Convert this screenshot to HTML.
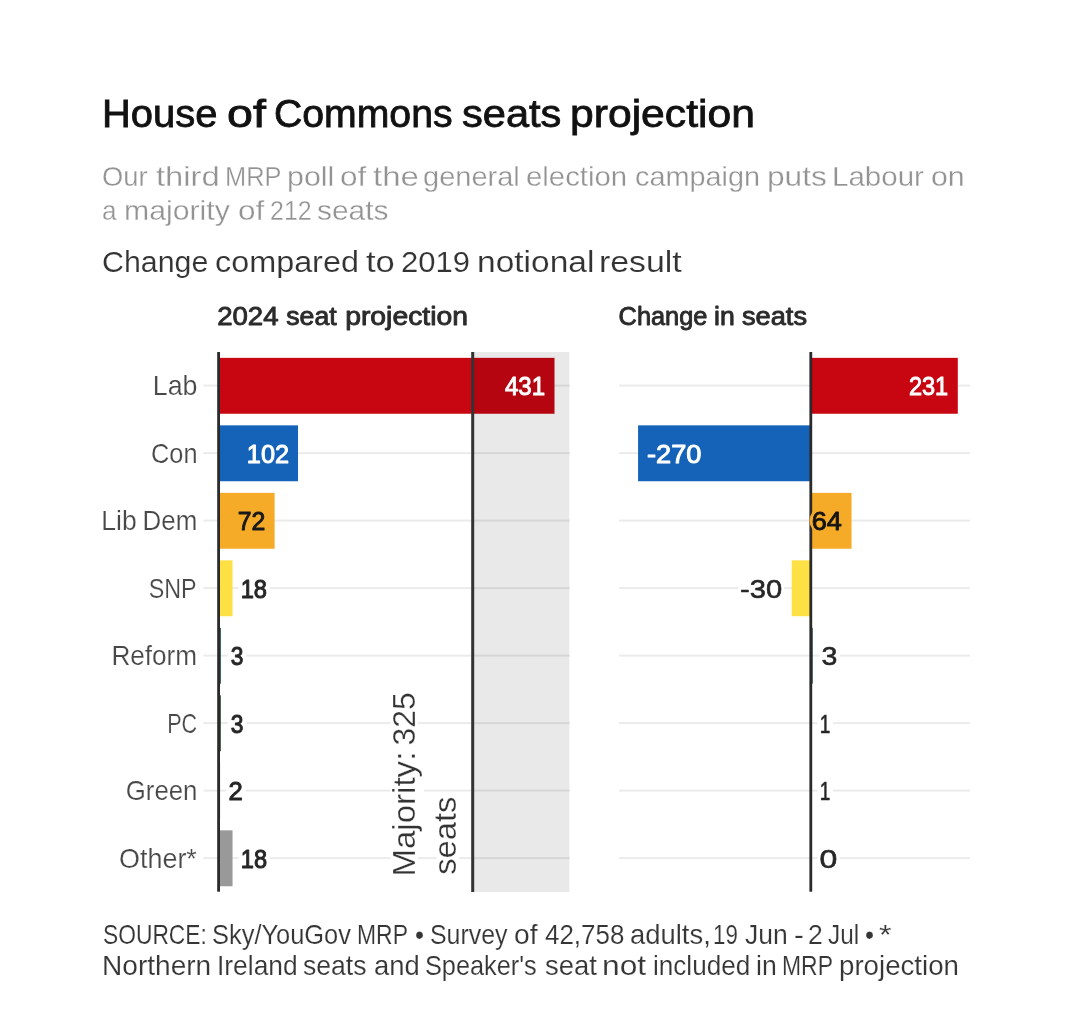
<!DOCTYPE html>
<html lang="en"><head><meta charset="utf-8"><title>House of Commons seats projection</title>
<style>
html,body{margin:0;padding:0;background:#fff;}
body{width:1080px;height:1035px;position:relative;overflow:hidden;font-family:"Liberation Sans", sans-serif;}
.ln{position:absolute;left:0;top:0;margin:0;padding:0;line-height:1;white-space:nowrap;width:0;height:0;}
.t{position:absolute;white-space:nowrap;transform-origin:0 0;line-height:1;display:block;}
svg{position:absolute;left:0;top:0;}
svg text{font-family:"Liberation Sans", sans-serif;white-space:pre;}
</style></head><body>
<h1 id="title" class="ln" style="font-size:39.00px;font-weight:normal;color:#111;-webkit-text-stroke:0.8px #111;"><span class="t" style="left:101.66px;top:94.00px;transform:scaleX(1.0236)">House</span> <span class="t" style="left:226.80px;top:94.00px;transform:scaleX(1.1952)">of</span> <span class="t" style="left:273.50px;top:94.00px;transform:scaleX(1.0045)">Commons</span> <span class="t" style="left:461.66px;top:94.00px;transform:scaleX(1.0665)">seats</span> <span class="t" style="left:569.81px;top:94.00px;transform:scaleX(1.0935)">projection</span></h1>
<p id="sub1" class="ln" style="font-size:28.00px;font-weight:normal;color:#939393;-webkit-text-stroke:0.3px #fff;"><span class="t" style="left:102.02px;top:163.00px;transform:scaleX(0.9760)">Our</span> <span class="t" style="left:155.50px;top:163.00px;transform:scaleX(1.1698)">third</span> <span class="t" style="left:225.19px;top:163.00px;transform:scaleX(0.9068)">MRP</span> <span class="t" style="left:287.45px;top:163.00px;transform:scaleX(1.0844)">poll</span> <span class="t" style="left:340.17px;top:163.00px;transform:scaleX(1.1252)">of</span> <span class="t" style="left:373.00px;top:163.00px;transform:scaleX(1.1791)">the</span> <span class="t" style="left:423.46px;top:163.00px;transform:scaleX(1.0363)">general</span> <span class="t" style="left:525.95px;top:163.00px;transform:scaleX(1.0479)">election</span> <span class="t" style="left:635.27px;top:163.00px;transform:scaleX(1.0294)">campaign</span> <span class="t" style="left:766.67px;top:163.00px;transform:scaleX(1.1314)">puts</span> <span class="t" style="left:832.49px;top:163.00px;transform:scaleX(1.0541)">Labour</span> <span class="t" style="left:931.42px;top:163.00px;transform:scaleX(1.0824)">on</span></p>
<p id="sub2" class="ln" style="font-size:28.00px;font-weight:normal;color:#939393;-webkit-text-stroke:0.3px #fff;"><span class="t" style="left:102.07px;top:197.00px;transform:scaleX(0.9333)">a</span> <span class="t" style="left:124.23px;top:197.00px;transform:scaleX(1.0793)">majority</span> <span class="t" style="left:237.67px;top:197.00px;transform:scaleX(1.1252)">of</span> <span class="t" style="left:269.61px;top:197.00px;transform:scaleX(0.8917)">212</span> <span class="t" style="left:316.98px;top:197.00px;transform:scaleX(1.0685)">seats</span></p>
<p id="note" class="ln" style="font-size:30.20px;font-weight:normal;color:#333;-webkit-text-stroke:0.15px #fff;"><span class="t" style="left:102.00px;top:247.00px;transform:scaleX(1.0048)">Change</span> <span class="t" style="left:215.23px;top:247.00px;transform:scaleX(1.0719)">compared</span> <span class="t" style="left:366.30px;top:247.00px;transform:scaleX(1.1458)">to</span> <span class="t" style="left:400.97px;top:247.00px;transform:scaleX(1.0277)">2019</span> <span class="t" style="left:476.58px;top:247.00px;transform:scaleX(1.1098)">notional</span> <span class="t" style="left:599.06px;top:247.00px;transform:scaleX(1.1208)">result</span></p>
<p id="src1" class="ln" style="font-size:27.60px;font-weight:normal;color:#363636;-webkit-text-stroke:0.15px #fff;"><span class="t" style="left:102.77px;top:921.00px;transform:scaleX(0.8262)">SOURCE:</span> <span class="t" style="left:212.08px;top:921.00px;transform:scaleX(0.9213)">Sky/YouGov</span> <span class="t" style="left:357.14px;top:921.00px;transform:scaleX(0.8310)">MRP</span> <span class="t" style="left:414.56px;top:921.00px;transform:scaleX(0.9375)">•</span> <span class="t" style="left:430.40px;top:921.00px;transform:scaleX(0.9024)">Survey</span> <span class="t" style="left:514.48px;top:921.00px;transform:scaleX(1.0227)">of</span> <span class="t" style="left:544.86px;top:921.00px;transform:scaleX(0.9406)">42,758</span> <span class="t" style="left:629.51px;top:921.00px;transform:scaleX(0.9936)">adults,</span> <span class="t" style="left:713.38px;top:921.00px;transform:scaleX(0.8079)">19</span> <span class="t" style="left:745.00px;top:921.00px;transform:scaleX(0.9605)">Jun</span> <span class="t" style="left:793.93px;top:921.00px;transform:scaleX(1.0714)">-</span> <span class="t" style="left:807.84px;top:921.00px;transform:scaleX(0.9615)">2</span> <span class="t" style="left:827.50px;top:921.00px;transform:scaleX(0.8824)">Jul</span> <span class="t" style="left:864.56px;top:921.00px;transform:scaleX(0.9375)">•</span> <span class="t" style="left:879.12px;top:921.00px;transform:scaleX(1.1739)">*</span></p>
<p id="src2" class="ln" style="font-size:27.60px;font-weight:normal;color:#363636;-webkit-text-stroke:0.15px #fff;"><span class="t" style="left:102.17px;top:952.00px;transform:scaleX(1.0173)">Northern</span> <span class="t" style="left:216.89px;top:952.00px;transform:scaleX(0.9556)">Ireland</span> <span class="t" style="left:302.90px;top:952.00px;transform:scaleX(0.9631)">seats</span> <span class="t" style="left:374.01px;top:952.00px;transform:scaleX(0.9943)">and</span> <span class="t" style="left:425.38px;top:952.00px;transform:scaleX(0.9167)">Speaker&#39;s</span> <span class="t" style="left:544.57px;top:952.00px;transform:scaleX(0.9949)">seat</span> <span class="t" style="left:602.34px;top:952.00px;transform:scaleX(1.1508)">not</span> <span class="t" style="left:653.24px;top:952.00px;transform:scaleX(0.9459)">included</span> <span class="t" style="left:755.71px;top:952.00px;transform:scaleX(0.9647)">in</span> <span class="t" style="left:782.14px;top:952.00px;transform:scaleX(0.8310)">MRP</span> <span class="t" style="left:838.67px;top:952.00px;transform:scaleX(1.0028)">projection</span></p>
<svg id="chart" width="1080" height="1035" viewBox="0 0 1080 1035">
<g id="hd1">
<text transform="translate(217.13,325.40) scale(1.0820,1)" font-size="25.51" font-weight="normal" fill="#2b2b2b" stroke="#2b2b2b" stroke-width="0.9" stroke-linejoin="round">2024</text>
<text transform="translate(286.30,325.40) scale(1.0449,1)" font-size="25.51" font-weight="normal" fill="#2b2b2b" stroke="#2b2b2b" stroke-width="0.9" stroke-linejoin="round">seat</text>
<text transform="translate(345.19,325.40) scale(1.1101,1)" font-size="25.51" font-weight="normal" fill="#2b2b2b" stroke="#2b2b2b" stroke-width="0.9" stroke-linejoin="round">projection</text>
</g>
<g id="hd2">
<text transform="translate(618.62,325.40) scale(0.9930,1)" font-size="25.51" font-weight="normal" fill="#2b2b2b" stroke="#2b2b2b" stroke-width="0.9" stroke-linejoin="round">Change</text>
<text transform="translate(713.96,325.40) scale(1.0444,1)" font-size="25.51" font-weight="normal" fill="#2b2b2b" stroke="#2b2b2b" stroke-width="0.9" stroke-linejoin="round">in</text>
<text transform="translate(742.00,325.40) scale(1.0656,1)" font-size="25.51" font-weight="normal" fill="#2b2b2b" stroke="#2b2b2b" stroke-width="0.9" stroke-linejoin="round">seats</text>
</g>
<rect x="203.5" y="384.60" width="366.3" height="2" fill="#ebebeb"/>
<rect x="619" y="384.60" width="351" height="2" fill="#ebebeb"/>
<rect x="203.5" y="452.10" width="366.3" height="2" fill="#ebebeb"/>
<rect x="619" y="452.10" width="351" height="2" fill="#ebebeb"/>
<rect x="203.5" y="519.60" width="366.3" height="2" fill="#ebebeb"/>
<rect x="619" y="519.60" width="351" height="2" fill="#ebebeb"/>
<rect x="203.5" y="587.10" width="366.3" height="2" fill="#ebebeb"/>
<rect x="619" y="587.10" width="351" height="2" fill="#ebebeb"/>
<rect x="203.5" y="654.60" width="366.3" height="2" fill="#ebebeb"/>
<rect x="619" y="654.60" width="351" height="2" fill="#ebebeb"/>
<rect x="203.5" y="722.10" width="366.3" height="2" fill="#ebebeb"/>
<rect x="619" y="722.10" width="351" height="2" fill="#ebebeb"/>
<rect x="203.5" y="789.60" width="366.3" height="2" fill="#ebebeb"/>
<rect x="619" y="789.60" width="351" height="2" fill="#ebebeb"/>
<rect x="203.5" y="857.10" width="366.3" height="2" fill="#ebebeb"/>
<rect x="619" y="857.10" width="351" height="2" fill="#ebebeb"/>
<rect x="218.5" y="357.85" width="336.00" height="55.90" fill="#c70612"/>
<rect x="218.5" y="425.35" width="79.52" height="55.90" fill="#1563b8"/>
<rect x="218.5" y="492.85" width="56.13" height="55.90" fill="#f6ab28"/>
<rect x="218.5" y="560.35" width="14.03" height="55.90" fill="#fde144"/>
<rect x="218.5" y="627.85" width="2.34" height="55.90" fill="#1d4a4c"/>
<rect x="218.5" y="695.35" width="2.34" height="55.90" fill="#2c4a2c"/>
<rect x="218.5" y="762.85" width="1.56" height="55.90" fill="#4a5a3a"/>
<rect x="218.5" y="830.35" width="14.03" height="55.90" fill="#999999"/>
<rect x="472.5" y="352" width="96.9" height="540" fill="#000" fill-opacity="0.085"/>
<rect x="471.2" y="352" width="3" height="540" fill="#333"/>
<rect x="217.2" y="352" width="2.8" height="539.7" fill="#2a2a2a"/>
<rect x="810.80" y="357.85" width="147.00" height="55.90" fill="#c70612"/>
<rect x="638.08" y="425.35" width="172.72" height="55.90" fill="#1563b8"/>
<rect x="810.80" y="492.85" width="40.73" height="55.90" fill="#f6ab28"/>
<rect x="791.71" y="560.35" width="19.09" height="55.90" fill="#fde144"/>
<rect x="810.80" y="627.85" width="1.91" height="55.90" fill="#1d4a4c"/>
<rect x="810.80" y="695.35" width="0.64" height="55.90" fill="#2c4a2c"/>
<rect x="810.80" y="762.85" width="0.64" height="55.90" fill="#4a5a3a"/>
<rect x="810.80" y="830.35" width="0.00" height="55.90" fill="#999999"/>
<rect x="809.40" y="352" width="2.8" height="539.7" fill="#2a2a2a"/>
<rect x="238.60" y="586.10" width="31.10" height="4" fill="#fff"/>
<rect x="227.80" y="653.60" width="18.50" height="4" fill="#fff"/>
<rect x="227.80" y="721.10" width="18.50" height="4" fill="#fff"/>
<rect x="226.20" y="788.60" width="19.30" height="4" fill="#fff"/>
<rect x="238.70" y="856.10" width="31.00" height="4" fill="#fff"/>
<ellipse cx="819.50" cy="520.80" rx="10" ry="12" fill="#f6ab28"/>
<rect x="738.00" y="586.10" width="46.30" height="4" fill="#fff"/>
<rect x="819.40" y="653.60" width="20.40" height="4" fill="#fff"/>
<rect x="817.50" y="721.10" width="15.50" height="4" fill="#fff"/>
<rect x="817.50" y="788.60" width="15.50" height="4" fill="#fff"/>
<rect x="817.50" y="856.10" width="22.30" height="4" fill="#fff"/>
<rect x="390.50" y="721.00" width="27.50" height="4" fill="#fff"/>
<rect x="390.50" y="788.50" width="33.50" height="4" fill="#fff"/>
<rect x="390.50" y="856.00" width="27.50" height="4" fill="#fff"/>
<rect x="436.50" y="856.00" width="22.50" height="4" fill="#fff"/>
<text id="cat0" transform="translate(152.73,395.00) scale(0.9836,1)" font-size="27.25" font-weight="normal" fill="#484848" stroke="#fff" stroke-width="0.2">Lab</text>
<text id="cat1" transform="translate(151.07,462.50) scale(0.9296,1)" font-size="27.25" font-weight="normal" fill="#484848" stroke="#fff" stroke-width="0.2">Con</text>
<g id="cat2">
<text transform="translate(101.35,530.00) scale(0.9731,1)" font-size="27.25" font-weight="normal" fill="#484848" stroke="#fff" stroke-width="0.2">Lib</text>
<text transform="translate(142.50,530.00) scale(0.9519,1)" font-size="27.25" font-weight="normal" fill="#484848" stroke="#fff" stroke-width="0.2">Dem</text>
</g>
<text id="cat3" transform="translate(148.74,597.50) scale(0.8556,1)" font-size="27.25" font-weight="normal" fill="#484848" stroke="#fff" stroke-width="0.2">SNP</text>
<text id="cat4" transform="translate(111.38,665.00) scale(0.9593,1)" font-size="27.25" font-weight="normal" fill="#484848" stroke="#fff" stroke-width="0.2">Reform</text>
<text id="cat5" transform="translate(167.22,732.50) scale(0.7914,1)" font-size="27.25" font-weight="normal" fill="#484848" stroke="#fff" stroke-width="0.2">PC</text>
<text id="cat6" transform="translate(125.75,800.00) scale(0.9466,1)" font-size="27.25" font-weight="normal" fill="#484848" stroke="#fff" stroke-width="0.2">Green</text>
<text id="cat7" transform="translate(119.01,867.50) scale(0.9887,1)" font-size="27.25" font-weight="normal" fill="#484848" stroke="#fff" stroke-width="0.2">Other*</text>
<text id="vl0" transform="translate(504.90,395.30) scale(0.9091,1)" font-size="26.52" font-weight="normal" fill="#fff" stroke="#fff" stroke-width="1.0" stroke-linejoin="round">431</text>
<text id="vl1" transform="translate(246.84,462.80) scale(0.9558,1)" font-size="26.52" font-weight="normal" fill="#fff" stroke="#fff" stroke-width="1.0" stroke-linejoin="round">102</text>
<text id="vl2" transform="translate(237.63,530.00) scale(0.9739,1)" font-size="25.51" font-weight="normal" fill="#1a1a1a" stroke="#1a1a1a" stroke-width="1.0" stroke-linejoin="round">72</text>
<text id="vl3" transform="translate(240.67,597.50) scale(0.9296,1)" font-size="25.51" font-weight="normal" fill="#262626" stroke="#262626" stroke-width="1.0" stroke-linejoin="round">18</text>
<text id="vl4" transform="translate(230.80,665.00) scale(0.8929,1)" font-size="25.51" font-weight="normal" fill="#262626" stroke="#262626" stroke-width="1.0" stroke-linejoin="round">3</text>
<text id="vl5" transform="translate(230.80,732.50) scale(0.8929,1)" font-size="25.51" font-weight="normal" fill="#262626" stroke="#262626" stroke-width="1.0" stroke-linejoin="round">3</text>
<text id="vl6" transform="translate(228.44,800.00) scale(1.0042,1)" font-size="25.51" font-weight="normal" fill="#262626" stroke="#262626" stroke-width="1.0" stroke-linejoin="round">2</text>
<text id="vl7" transform="translate(240.77,867.50) scale(0.9259,1)" font-size="25.51" font-weight="normal" fill="#262626" stroke="#262626" stroke-width="1.0" stroke-linejoin="round">18</text>
<text id="vr0" transform="translate(908.98,395.30) scale(0.8867,1)" font-size="26.52" font-weight="normal" fill="#fff" stroke="#fff" stroke-width="1.0" stroke-linejoin="round">231</text>
<text id="vr1" transform="translate(647.00,462.80) scale(1.0264,1)" font-size="26.52" font-weight="normal" fill="#fff" stroke="#fff" stroke-width="1.0" stroke-linejoin="round">-270</text>
<text id="vr2" transform="translate(811.69,530.00) scale(1.0557,1)" font-size="25.65" font-weight="normal" fill="#141414" stroke="#141414" stroke-width="0.9" stroke-linejoin="round">64</text>
<text id="vr3" transform="translate(740.06,597.50) scale(1.1146,1)" font-size="26.09" font-weight="normal" fill="#262626" stroke="#262626" stroke-width="0.6" stroke-linejoin="round">-30</text>
<text id="vr4" transform="translate(821.53,665.00) scale(1.0909,1)" font-size="26.09" font-weight="normal" fill="#262626" stroke="#262626" stroke-width="0.6" stroke-linejoin="round">3</text>
<text id="vr5" transform="translate(819.77,732.50) scale(0.7308,1)" font-size="26.09" font-weight="normal" fill="#262626" stroke="#262626" stroke-width="0.6" stroke-linejoin="round">1</text>
<text id="vr6" transform="translate(819.77,800.00) scale(0.7308,1)" font-size="26.09" font-weight="normal" fill="#262626" stroke="#262626" stroke-width="0.6" stroke-linejoin="round">1</text>
<text id="vr7" transform="translate(819.61,867.50) scale(1.2275,1)" font-size="26.09" font-weight="normal" fill="#262626" stroke="#262626" stroke-width="0.6" stroke-linejoin="round">0</text>
<g id="maj1" transform="translate(415.30,873.80) rotate(-90)">
<text transform="translate(-2.82,0.00) scale(1.0446,1)" font-size="31.67" font-weight="normal" fill="#333" stroke="#fff" stroke-width="0.25">Majority:</text>
<text transform="translate(128.31,0.00) scale(1.0056,1)" font-size="31.67" font-weight="normal" fill="#333" stroke="#fff" stroke-width="0.25">325</text>
</g>
<g id="maj2" transform="translate(456.10,873.80) rotate(-90)">
<text transform="translate(-1.03,0.00) scale(1.0343,1)" font-size="31.67" font-weight="normal" fill="#333" stroke="#fff" stroke-width="0.25">seats</text>
</g>
</svg>
</body></html>
